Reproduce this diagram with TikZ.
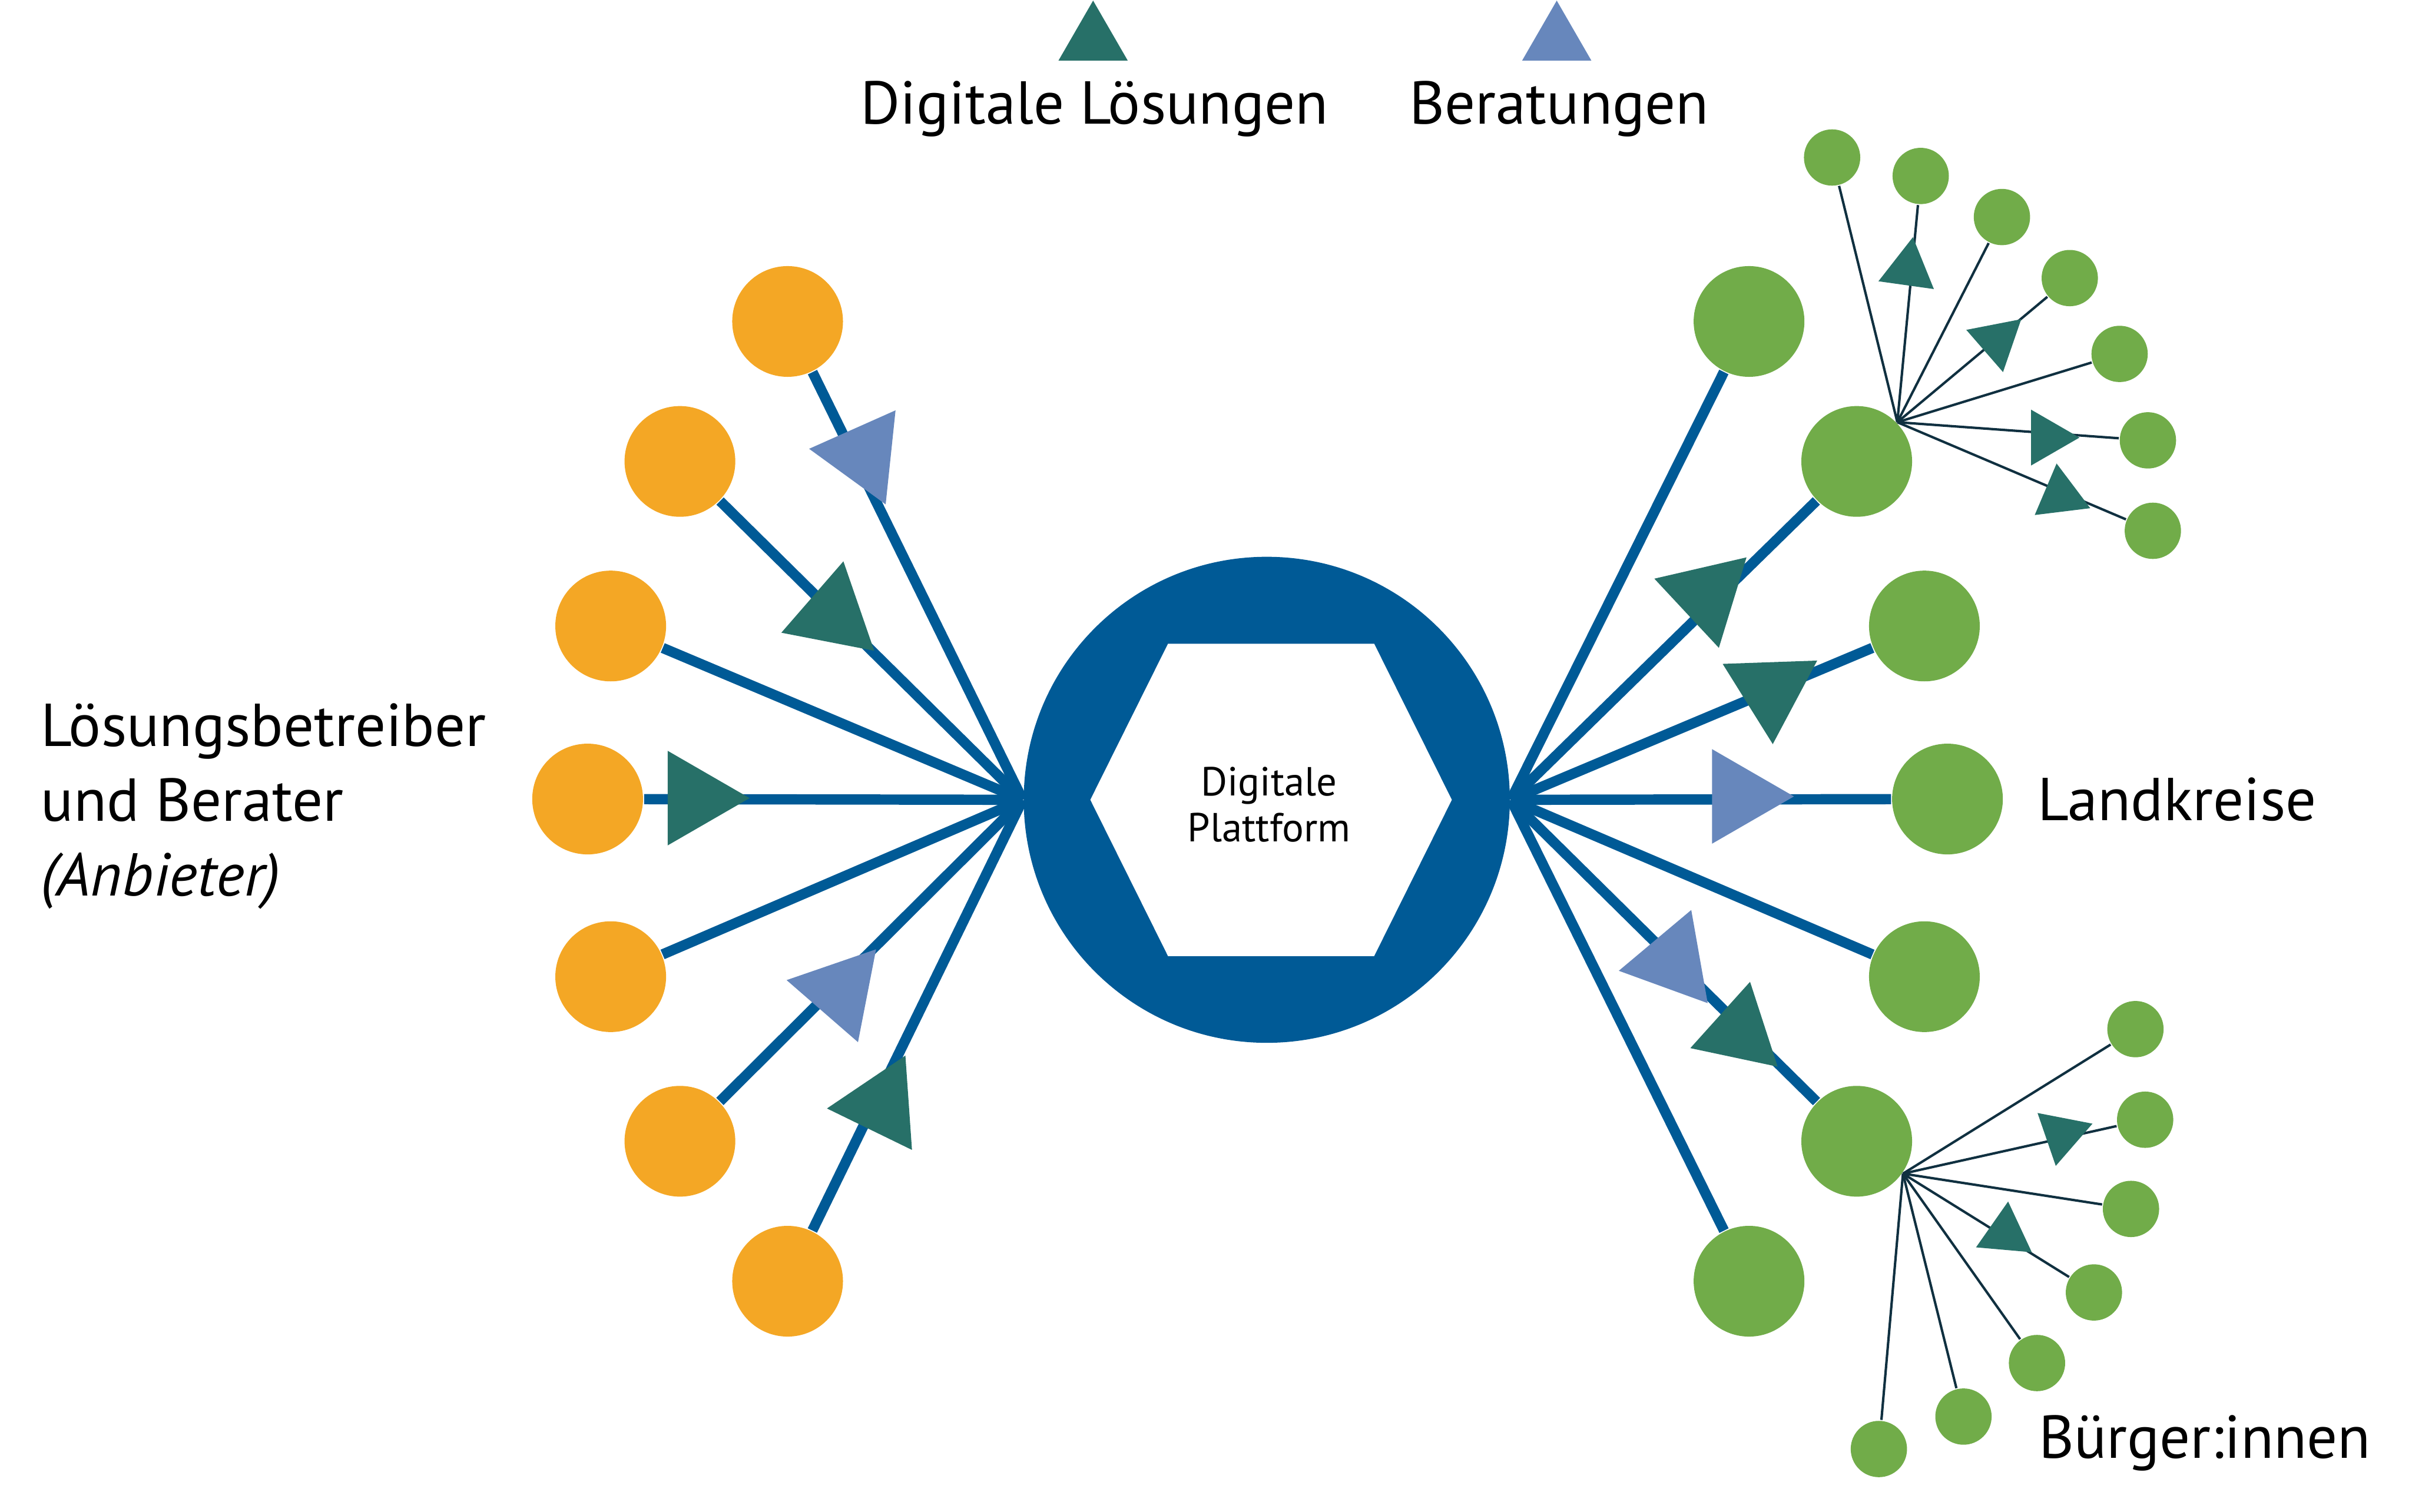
\documentclass[tikz,border=0pt]{standalone}
\usepackage{fontspec}
\setmainfont{PT Sans}
\usetikzlibrary{shapes.geometric}

\definecolor{plattblau}{RGB}{0,90,150}
\definecolor{anbieter}{RGB}{244,167,37}
\definecolor{kreisgruen}{RGB}{113,172,73}
\definecolor{loesung}{RGB}{39,112,104}
\definecolor{beratung}{RGB}{103,135,188}
\definecolor{duenn}{RGB}{16,48,64}

\tikzset{
    platform/.style={circle, fill=plattblau, minimum size=3.16cm, inner sep=0pt},
    anb/.style={circle, fill=anbieter, minimum size=7.2mm, inner sep=0pt},
    lk/.style={circle, fill=kreisgruen, minimum size=7.2mm, inner sep=0pt},
    bg/.style={circle, fill=kreisgruen, minimum size=3.66mm, inner sep=0pt},
    strang/.style={plattblau, line width=1.9pt},
    ast/.style={duenn, line width=0.45pt},
    dl/.style={regular polygon, regular polygon sides=3, fill=loesung, inner sep=0pt, minimum size=7.1mm},
    br/.style={dl, fill=beratung},
    klein/.style={minimum size=4.2mm},
    beschr/.style={font=\fontsize{11.2}{13.8}\selectfont, inner sep=0pt}
}

\begin{document}
\begin{tikzpicture}
    \useasboundingbox (0,0) rectangle (15.68,9.83);

    % Plattform
    \node[platform] (plat) at (8.235,4.63) {};
    \fill[white] (7.088,4.63) -- (7.593,5.645) -- (8.933,5.645) -- (9.438,4.63) -- (8.933,3.614) -- (7.593,3.614) -- cycle;
    \node[font=\fontsize{7.5}{8.5}\selectfont, align=center] (pltext) at (8.25,4.60) {Digitale\\Plattform};

    % Anbieter
    \node[anb] (o1) at (5.12,7.74) {};
    \node[anb] (o2) at (4.42,6.83) {};
    \node[anb] (o3) at (3.97,5.76) {};
    \node[anb] (o4) at (3.82,4.635) {};
    \node[anb] (o5) at (3.97,3.48) {};
    \node[anb] (o6) at (4.42,2.41) {};
    \node[anb] (o7) at (5.12,1.50) {};

    % Landkreise
    \node[lk] (g1) at (11.37,7.74) {};
    \node[lk] (g2) at (12.07,6.83) {};
    \node[lk] (g3) at (12.51,5.76) {};
    \node[lk] (g4) at (12.66,4.635) {};
    \node[lk] (g5) at (12.51,3.48) {};
    \node[lk] (g6) at (12.07,2.41) {};
    \node[lk] (g7) at (11.37,1.50) {};

    % Buerger
    \node[bg] (s1) at (11.91,8.806) {};
    \node[bg] (s2) at (12.486,8.686) {};
    \node[bg] (s3) at (13.014,8.419) {};
    \node[bg] (s4) at (13.455,8.022) {};
    \node[bg] (s5) at (13.779,7.529) {};
    \node[bg] (s6) at (13.963,6.967) {};
    \node[bg] (s7) at (13.995,6.379) {};
    \node[bg] (b1) at (13.882,3.139) {};
    \node[bg] (b2) at (13.945,2.55) {};
    \node[bg] (b3) at (13.853,1.97) {};
    \node[bg] (b4) at (13.612,1.427) {};
    \node[bg] (b5) at (13.242,0.968) {};
    \node[bg] (b6) at (12.764,0.62) {};
    \node[bg] (b7) at (12.214,0.409) {};

    \draw[strang] (plat.west) -- (o1);
    \draw[strang] (plat.west) -- (o2);
    \draw[strang] (plat.west) -- (o3);
    \draw[strang] (plat.west) -- (o4);
    \draw[strang] (plat.west) -- (o5);
    \draw[strang] (plat.west) -- (o6);
    \draw[strang] (plat.west) -- (o7);

    \draw[strang] (plat.east) -- (g1);
    \draw[strang] (plat.east) -- (g2);
    \draw[strang] (plat.east) -- (g3);
    \draw[strang] (plat.east) -- (g4);
    \draw[strang] (plat.east) -- (g5);
    \draw[strang] (plat.east) -- (g6);
    \draw[strang] (plat.east) -- (g7);

    \draw[ast] (g2.44) -- (s1);
    \draw[ast] (g2.44) -- (s2);
    \draw[ast] (g2.44) -- (s3);
    \draw[ast] (g2.44) -- (s4);
    \draw[ast] (g2.44) -- (s5);
    \draw[ast] (g2.44) -- (s6);
    \draw[ast] (g2.44) -- (s7);
    \draw[ast] (g6.-35) -- (b1);
    \draw[ast] (g6.-35) -- (b2);
    \draw[ast] (g6.-35) -- (b3);
    \draw[ast] (g6.-35) -- (b4);
    \draw[ast] (g6.-35) -- (b5);
    \draw[ast] (g6.-35) -- (b6);
    \draw[ast] (g6.-35) -- (b7);

    % Dreiecke auf den Straengen
    \node[br, rotate=-156] (t1) at (5.613,6.875) {};
    \node[dl, rotate=-131] (t2) at (5.415,5.832) {};
    \node[dl, rotate=-90] (t4) at (4.518,4.641) {};
    \node[br, rotate=-41] (t6) at (5.462,3.39) {};
    \node[dl, rotate=-26] (t7) at (5.73,2.648) {};
    \node[dl, rotate=-47] (u2) at (11.094,5.964) {};
    \node[dl, rotate=-178] (u3) at (11.512,5.347) {};
    \node[br, rotate=-90] (u4) at (11.307,4.652) {};
    \node[br, rotate=-140] (u6) at (10.873,3.58) {};
    \node[dl, rotate=-132, minimum size=6.7mm] (u6b) at (11.307,3.119) {};
    \node[dl, klein, rotate=-8] (ts2) at (12.406,8.08) {};
    \node[dl, klein, rotate=-49] (ts4) at (12.981,7.617) {};
    \node[dl, klein, rotate=-90] (ts6) at (13.308,6.985) {};
    \node[dl, klein, rotate=-113] (ts7) at (13.395,6.608) {};
    \node[dl, klein, rotate=-71] (tb2) at (13.404,2.456) {};
    \node[dl, klein, rotate=-125] (tb4) at (13.036,1.809) {};

    % Legende
    \node[dl, minimum size=5.2mm] (legdl) at (7.106,9.566) {};
    \node[br, minimum size=5.2mm] (legbr) at (10.12,9.566) {};
    \node[beschr, anchor=base] (legdltext) at (7.115,9.026) {Digitale Lösungen};
    \node[beschr, anchor=base] (legbrtext) at (10.136,9.026) {Beratungen};

    \node[beschr, anchor=base west, align=left] (anbtext) at (0.26,4.007) {Lösungsbetreiber\\und Berater\\\textit{(Anbieter)}};
    \node[beschr, anchor=base west] (lktext) at (13.24,4.496) {Landkreise};
    \node[beschr, anchor=base west] (bgtext) at (13.246,0.35) {Bürger:innen};
\end{tikzpicture}
\end{document}
